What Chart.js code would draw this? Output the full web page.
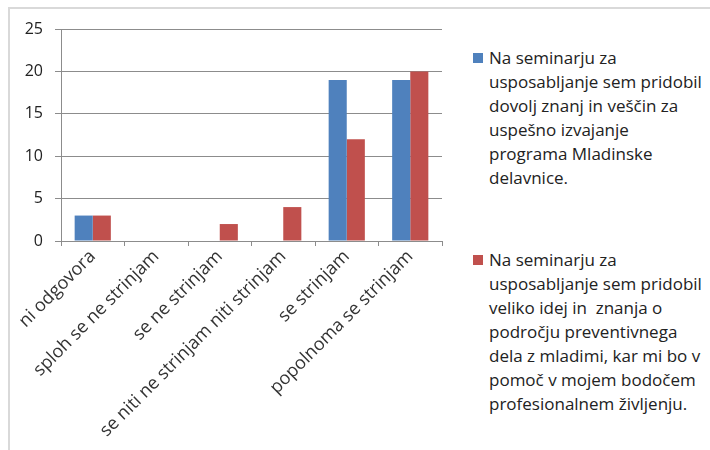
<!DOCTYPE html>
<html>
<head>
<meta charset="utf-8">
<script src="https://cdn.jsdelivr.net/npm/chart.js@4.4.0/dist/chart.umd.min.js"></script>
<style>
  html, body { margin: 0; padding: 0; background: #fff; }
  body { width: 710px; height: 450px; position: relative; overflow: hidden; }
  #frame {
    position: absolute; left: 8px; top: 7px; width: 720px; height: 460px;
    border-left: 2px solid #d9d9d9; border-top: 2px solid #d9d9d9;
  }
  #wrap { position: absolute; left: 0; top: 0; width: 450px; height: 450px; }
  .leg {
    position: absolute; left: 473px; width: 237px;
    font-family: "Open Sans", sans-serif; font-size: 17px; line-height: 24px; color: #222;
  }
  .leg .box { position: absolute; left: 0; top: 7px; width: 10px; height: 10px; }
  .leg .txt { margin-left: 16px; white-space: pre-wrap; }
</style>
</head>
<body>
<div id="frame"></div>
<div id="wrap"><canvas id="chart1"></canvas></div>
<div id="legend"></div>
<script>
// Data
const categories = [
  'ni odgovora',
  'sploh se ne strinjam',
  'se ne strinjam',
  'se niti ne strinjam niti strinjam',
  'se strinjam',
  'popolnoma se strinjam'
];
const series1Name = 'Na seminarju za usposabljanje sem pridobil dovolj znanj in veščin za uspešno izvajanje programa Mladinske delavnice.';
const series2Name = 'Na seminarju za usposabljanje sem pridobil veliko idej in  znanja o področju preventivnega dela z mladimi, kar mi bo v pomoč v mojem bodočem profesionalnem življenju.';
const series1 = [3, 0, 0, 0, 19, 19];
const series2 = [3, 0, 2, 4, 12, 20];
const yTicks = [0, 5, 10, 15, 20, 25];

const blue = '#4f81bd';
const red = '#c0504d';

// HTML legend (wrapped text)
const legendItems = [
  { name: series1Name, color: blue, top: 46 },
  { name: series2Name, color: red, top: 248 }
];
const legendEl = document.getElementById('legend');
legendItems.forEach(it => {
  const d = document.createElement('div');
  d.className = 'leg';
  d.style.top = it.top + 'px';
  d.innerHTML = '<span class="box" style="background:' + it.color + '"></span><div class="txt"></div>';
  d.querySelector('.txt').textContent = it.name;
  legendEl.appendChild(d);
});

const ctx = document.getElementById('chart1').getContext('2d');
new Chart(ctx, {
  type: 'bar',
  data: {
    labels: categories,
    datasets: [
      { label: series1Name, data: series1, backgroundColor: blue, categoryPercentage: 0.57, barPercentage: 1 },
      { label: series2Name, data: series2, backgroundColor: red, categoryPercentage: 0.57, barPercentage: 1 }
    ]
  },
  options: {
    responsive: true,
    maintainAspectRatio: false,
    animation: false,
    layout: { padding: { top: 29, left: 0, right: 8, bottom: 0 } },
    plugins: {
      legend: { display: false },
      tooltip: { enabled: false }
    },
    scales: {
      x: {
        grid: { offset: true, drawOnChartArea: false, color: '#8c8c8c', tickLength: 5 },
        border: { color: '#8c8c8c' },
        ticks: {
          color: '#333',
          font: { family: 'Open Sans', size: 18 },
          maxRotation: 45, minRotation: 45,
          padding: 0
        },
        afterFit: s => { s.height = 450 - 241; }
      },
      y: {
        min: 0, max: 25,
        afterBuildTicks: s => { s.ticks = yTicks.map(v => ({ value: v })); },
        grid: { color: '#8c8c8c', tickLength: 6 },
        border: { color: '#8c8c8c' },
        ticks: {
          color: '#222',
          font: { family: 'Open Sans', size: 16 },
          padding: 12
        },
        afterFit: s => { s.width = 61; }
      }
    }
  }
});
</script>
</body>
</html>
